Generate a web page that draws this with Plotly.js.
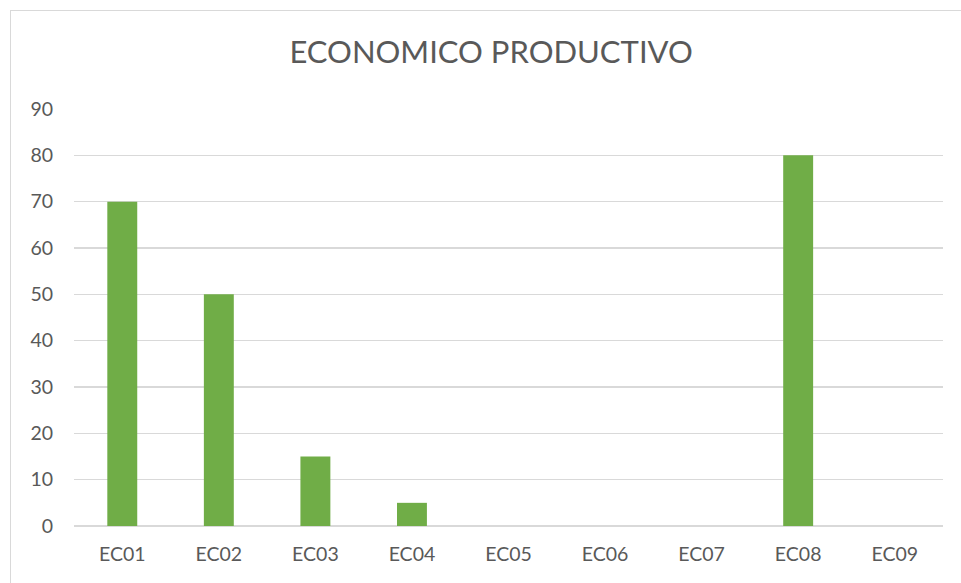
<!DOCTYPE html>
<html>
<head>
<meta charset="utf-8">
<script src="https://cdn.plot.ly/plotly-3.0.1.min.js"></script>
<style>
html,body{margin:0;padding:0;background:#fff;}
#wrap{position:relative;width:961px;height:583px;}
#chart{width:961px;height:583px;}
#frame{position:absolute;left:10px;top:10px;right:0;bottom:0;border-left:1px solid #D9D9D9;border-top:1px solid #D9D9D9;pointer-events:none;}
</style>
</head>
<body>
<div id="wrap"><div id="chart"></div><div id="frame"></div></div>
<script>
const categories = ["EC01","EC02","EC03","EC04","EC05","EC06","EC07","EC08","EC09"];
const values = [70, 50, 15, 5, 0, 0, 0, 80, 0];
const yTicks = [0,10,20,30,40,50,60,70,80,90];
const chartTitle = "ECONOMICO PRODUCTIVO";

const font = "Lato, 'Open Sans', sans-serif";
const trace = {
  type: "bar",
  x: categories,
  y: values,
  marker: {color: "#70AD47"},
  hoverinfo: "x+y"
};
const layout = {
  width: 961, height: 583,
  margin: {l: 74, r: 18, t: 109, b: 56.5},
  paper_bgcolor: "#fff", plot_bgcolor: "#fff",
  bargap: 0.69,
  showlegend: false,
  title: {text: chartTitle, font: {family: font, size: 31, color: "#595959"}, xref: "container", x: 0.511, xanchor: "center", y: 0.91, yanchor: "middle"},
  xaxis: {
    type: "category",
    tickfont: {family: font, size: 19.5, color: "#595959"},
    showgrid: false, zeroline: false, showline: false,
    ticks: "", ticklabelstandoff: 14
  },
  yaxis: {
    range: [0, 90],
    tickvals: yTicks,
    tickfont: {family: font, size: 19.5, color: "#595959"},
    gridcolor: "#D9D9D9", gridwidth: 1.3,
    zeroline: true, zerolinecolor: "#D9D9D9", zerolinewidth: 1.3,
    showline: false, ticks: "", ticklabelstandoff: 20
  }
};
Plotly.newPlot("chart", [trace], layout, {displayModeBar: false, staticPlot: true});
</script>
</body>
</html>
